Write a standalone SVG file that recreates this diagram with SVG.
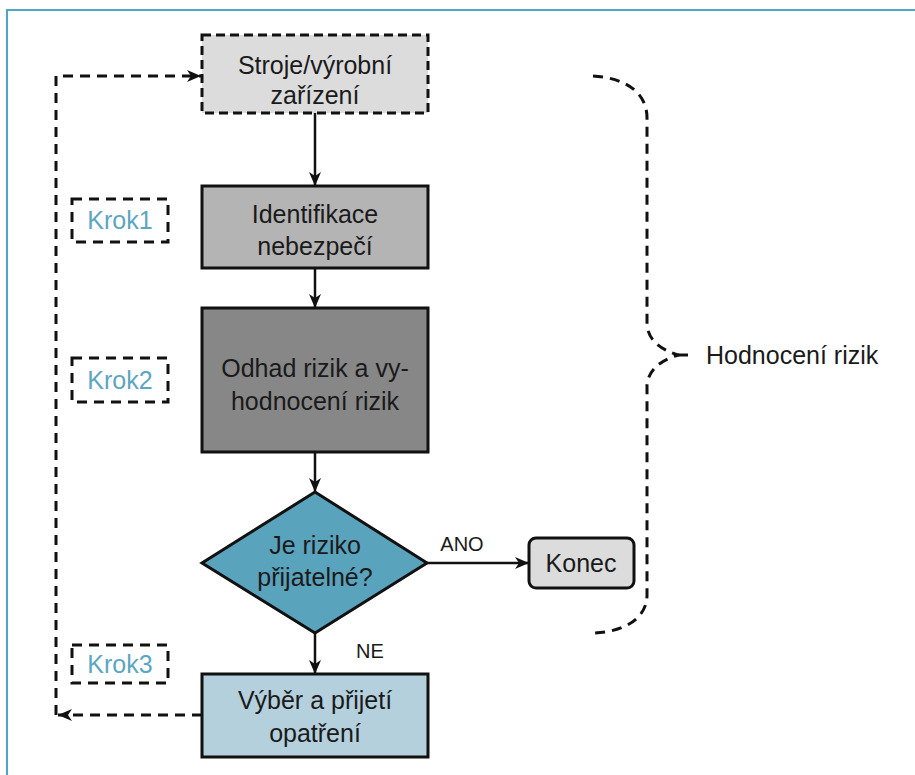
<svg xmlns="http://www.w3.org/2000/svg" width="915" height="775" viewBox="0 0 915 775">
<style>
text{font-family:"Liberation Sans",Arial,sans-serif;fill:#1a1a1a;text-anchor:middle}
.t{font-size:25px}
.s{font-size:20px}
.k{font-size:25px;fill:#5ba6c2}
.box{stroke:#111;stroke-width:3}
.dash{fill:none;stroke:#111;stroke-width:3;stroke-dasharray:10 7}
.conn{fill:none;stroke:#111;stroke-width:2.5}
</style>
<defs>
<marker id="ah" viewBox="0 0 14 12" refX="14" refY="6" markerWidth="14" markerHeight="12" markerUnits="userSpaceOnUse" orient="auto">
<path d="M0,0 L14,6 L0,12 L4,6 z" fill="#111"/>
</marker>
</defs>
<g id="frame">
<path d="M7,775 L7,10 L915,10" fill="none" stroke="#4da6cb" stroke-width="2"/>
</g>
<g id="connectors">
<path class="conn" d="M315,113 L315,186" marker-end="url(#ah)"/>
<path class="conn" d="M315,268 L315,308" marker-end="url(#ah)"/>
<path class="conn" d="M315,452 L315,492" marker-end="url(#ah)"/>
<path class="conn" d="M315,633 L315,674" marker-end="url(#ah)"/>
<path class="conn" d="M427,563 L529,563" marker-end="url(#ah)"/>
<path class="dash" d="M202,715 L58,715" marker-end="url(#ah)"/>
<path class="dash" d="M56,715 L56,76 L201,76" marker-end="url(#ah)"/>
<text class="s" x="462" y="551">ANO</text>
<text class="s" x="370" y="658">NE</text>
</g>
<g id="brace">
<path class="dash" d="M593,76 C625,78 647,92 647,118 L647,325 Q649,346 678,355 Q649,364 647,385 L647,595 C647,618 625,632 593,633"/>
<path class="dash" d="M678,355 L694,355"/>
<text class="t" x="706" y="364" style="text-anchor:start">Hodnocení rizik</text>
</g>
<g id="krok1">
<rect class="dash" x="72" y="199" width="96" height="43"/>
<text class="k" x="120" y="229">Krok1</text>
</g>
<g id="krok2">
<rect class="dash" x="72" y="358" width="96" height="44"/>
<text class="k" x="120" y="389">Krok2</text>
</g>
<g id="krok3">
<rect class="dash" x="72" y="645" width="96" height="38"/>
<text class="k" x="120" y="673">Krok3</text>
</g>
<g id="stroje">
<rect x="202" y="35" width="226" height="78" fill="#dcdcdd" stroke="#111" stroke-width="3" stroke-dasharray="9 5"/>
<text class="t" x="315" y="74">Stroje/výrobní</text>
<text class="t" x="315" y="104">zařízení</text>
</g>
<g id="identifikace">
<rect class="box" x="202" y="186" width="226" height="82" fill="#b4b4b5"/>
<text class="t" x="315" y="223">Identifikace</text>
<text class="t" x="315" y="255">nebezpečí</text>
</g>
<g id="odhad">
<rect class="box" x="202" y="308" width="226" height="144" fill="#878788"/>
<text class="t" x="315" y="377">Odhad rizik a vy-</text>
<text class="t" x="315" y="410">hodnocení rizik</text>
</g>
<g id="rozhodnuti">
<polygon class="box" points="315,492 427,563 315,633 202,563" fill="#5aa3bd"/>
<text class="t" x="315" y="554">Je riziko</text>
<text class="t" x="315" y="586">přijatelné?</text>
</g>
<g id="konec">
<rect class="box" x="529" y="538" width="105" height="50" rx="7" fill="#dcdcdd"/>
<text class="t" x="581" y="572">Konec</text>
</g>
<g id="opatreni">
<rect class="box" x="202" y="674" width="226" height="83" fill="#b3d0dc"/>
<text class="t" x="315" y="709">Výběr a přijetí</text>
<text class="t" x="315" y="742">opatření</text>
</g>
</svg>
